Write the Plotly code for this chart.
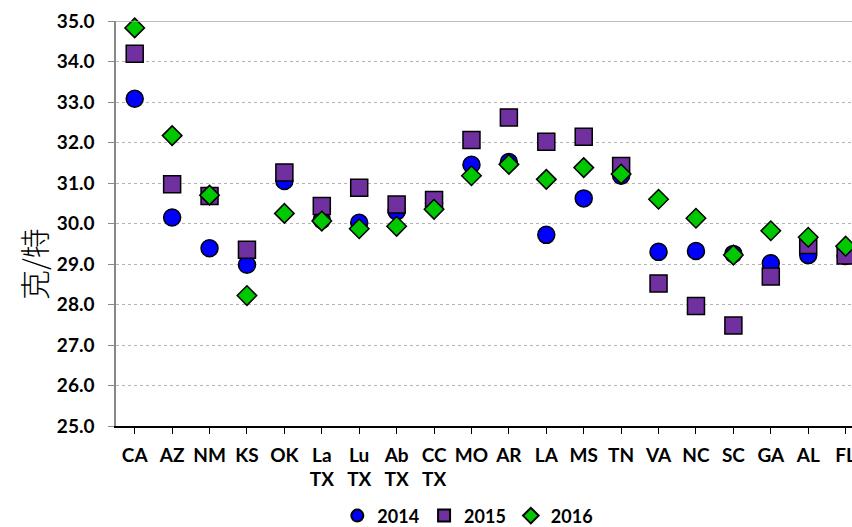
import plotly.graph_objects as go

categories = ["CA", "AZ", "NM", "KS", "OK", "La<br>TX", "Lu<br>TX", "Ab<br>TX", "CC<br>TX",
              "MO", "AR", "LA", "MS", "TN", "VA", "NC", "SC", "GA", "AL", "FL"]
v2014 = [33.08, 30.15, 29.39, 28.98, 31.05, 30.09, 30.02, 30.30, 30.50,
         31.45, 31.52, 29.72, 30.62, 31.18, 29.30, 29.32, 29.25, 29.02, 29.22, 29.20]
v2015 = [34.19, 30.97, 30.68, 29.35, 31.26, 30.43, 30.88, 30.47, 30.58,
         32.06, 32.62, 32.02, 32.14, 31.42, 28.52, 27.96, 27.48, 28.69, 29.47, 29.21]
v2016 = [34.83, 32.17, 30.70, 28.22, 30.25, 30.06, 29.87, 29.93, 30.35,
         31.18, 31.46, 31.09, 31.38, 31.22, 30.60, 30.13, 29.22, 29.82, 29.66, 29.44]
series_names = ["2014", "2015", "2016"]
y_title = "克/特"

FONT = "Lato"
xs = list(range(len(categories)))

fig = go.Figure()
styles = [
    dict(symbol="circle", size=17, color="#0000FF"),
    dict(symbol="square", size=17, color="#7030A0"),
    dict(symbol="diamond", size=15, color="#00C800"),
]
for name, vals, st in zip(series_names, [v2014, v2015, v2016], styles):
    fig.add_trace(go.Scatter(
        x=xs, y=vals, mode="markers", name=name, cliponaxis=False,
        marker=dict(symbol=st["symbol"], size=st["size"], color=st["color"],
                    line=dict(color="black", width=1.5)),
    ))

fig.update_layout(
    width=852, height=527,
    margin=dict(l=116, r=0, t=21, b=101, autoexpand=False),
    paper_bgcolor="white", plot_bgcolor="white",
    showlegend=True,
    legend=dict(orientation="h", xref="paper", yref="paper",
                x=0.478, y=-0.222, xanchor="center", yanchor="middle",
                font=dict(family=FONT, size=18, color="black", weight="bold"),
                itemsizing="constant", tracegroupgap=0, itemwidth=30),
    font=dict(family=FONT, color="black"),
)
fig.update_xaxes(
    tickmode="array", tickvals=xs, ticktext=categories, automargin=False,
    range=[-0.5, 19.17], showgrid=False, zeroline=False,
    showline=True, linecolor="black", linewidth=1.5,
    ticks="outside", tickson="boundaries", ticklen=6, tickcolor="black", tickwidth=1,
    tickfont=dict(family=FONT, size=19, color="black", weight="bold"),
    ticklabelstandoff=5, ticklabeloverflow="allow",
)
fig.update_yaxes(
    range=[25, 35], dtick=1, tickformat=".1f", automargin=False,
    showgrid=True, gridcolor="#B4B4B4", griddash="dot", gridwidth=1.2,
    zeroline=False, showline=True, linecolor="#888888", linewidth=1.5,
    ticks="outside", ticklen=6, tickcolor="#888888",
    tickfont=dict(family=FONT, size=19, color="black", weight="bold"),
    ticklabelstandoff=10,
)
fig.add_annotation(
    text=y_title, textangle=-90, xref="paper", yref="y",
    x=-0.1128, y=29.0, xanchor="center", yanchor="middle", showarrow=False,
    font=dict(family="Noto Sans CJK SC", size=30, color="black", weight=300),
)
fig.add_shape(type="line", xref="paper", yref="y", x0=0, x1=1, y0=35, y1=35,
              line=dict(color="#A6A6A6", width=1.5), layer="above")

fig.write_html("out.html", post_script="document.body.style.margin='0';",
               config={"displayModeBar": False})
